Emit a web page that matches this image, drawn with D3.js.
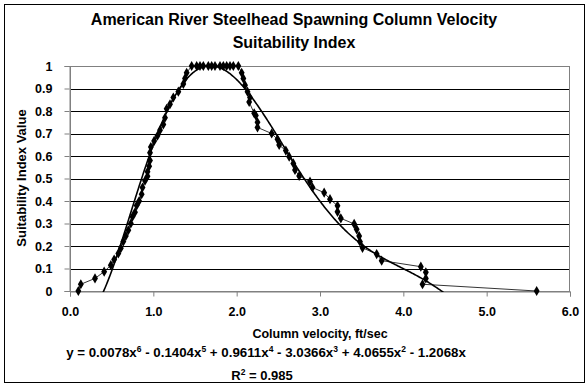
<!DOCTYPE html>
<html>
<head>
<meta charset="utf-8">
<script src="https://cdn.jsdelivr.net/npm/d3@7"></script>
<style>
  body { margin: 0; background: #fff; }
  text { font-family: "Liberation Sans", Arial, sans-serif; font-weight: bold; fill: #000; }
</style>
</head>
<body>
<svg id="chart" width="588" height="386"></svg>
<script>
let velocity = [0.10, 0.13, 0.30, 0.41, 0.49, 0.53, 0.58, 0.61, 0.64, 0.67, 0.70, 0.73, 0.75, 0.78, 0.80, 0.83, 0.86,
  0.87, 0.90, 0.93, 0.93, 0.95, 0.96, 0.96, 0.97, 1.01, 1.05, 1.08, 1.12, 1.14, 1.16, 1.20, 1.24, 1.30, 1.36, 1.38, 1.40,
  1.46, 1.52, 1.56, 1.60, 1.66, 1.70, 1.74, 1.80, 1.84, 1.88, 1.92, 1.96, 2.02,
  2.06, 2.08, 2.10, 2.13, 2.16, 2.15, 2.21, 2.23, 2.25, 2.25, 2.42, 2.49, 2.51, 2.59, 2.63, 2.68, 2.70, 2.75,
  2.88, 2.91, 3.05, 3.12, 3.21, 3.21, 3.25, 3.41, 3.44, 3.47, 3.48, 3.51, 3.68, 3.74,
  4.21, 4.27, 4.27, 4.23, 5.60];
let suitability = [0.00, 0.03, 0.056, 0.086, 0.115, 0.14, 0.167, 0.19, 0.22, 0.245, 0.27, 0.30, 0.33, 0.35, 0.38, 0.40, 0.43,
  0.46, 0.49, 0.51, 0.53, 0.555, 0.58, 0.615, 0.64, 0.667, 0.69, 0.715, 0.74, 0.77, 0.81, 0.83, 0.86, 0.886, 0.92, 0.945, 0.97,
  1, 1, 1, 1, 1, 1, 1, 1, 1, 1, 1, 1, 1,
  0.97, 0.945, 0.915, 0.886, 0.86, 0.84, 0.79, 0.78, 0.75, 0.727, 0.70, 0.674, 0.649, 0.624, 0.597, 0.567, 0.538, 0.511,
  0.486, 0.46, 0.437, 0.408, 0.379, 0.352, 0.323, 0.298, 0.274, 0.244, 0.219, 0.192, 0.164, 0.135,
  0.108, 0.083, 0.056, 0.03, 0.00];

// 6th order trendline coefficients, x^6 .. x^1 (intercept 0)
let trendCoef = [0.0078, -0.1404, 0.9611, -3.0366, 4.0655, -1.2068];

let xTicks = [0, 1, 2, 3, 4, 5, 6];
let yTicks = [0, 0.1, 0.2, 0.3, 0.4, 0.5, 0.6, 0.7, 0.8, 0.9, 1];

let titleLines = ['American River Steelhead Spawning Column Velocity', 'Suitability Index'];

let plotL = 70, plotR = 570, plotT = 66, plotB = 291;

let svg = d3.select('#chart');

svg.append('rect')
  .attr('x', 4.5).attr('y', 4.5)
  .attr('width', 580).attr('height', 378)
  .attr('fill', '#fff')
  .attr('stroke', '#000');

let x = d3.scaleLinear().domain([0, 6]).range([plotL, plotR]);
let y = d3.scaleLinear().domain([0, 1]).range([plotB, plotT]);

// gridlines
svg.append('g')
  .selectAll('line')
  .data(yTicks.filter(d => d > 0 && d < 1))
  .join('line')
  .attr('x1', plotL).attr('x2', plotR)
  .attr('y1', d => Math.round(y(d)) + 0.5)
  .attr('y2', d => Math.round(y(d)) + 0.5)
  .attr('stroke', '#000')
  .attr('stroke-width', 1);

// plot border
svg.append('rect')
  .attr('x', plotL + 0.5).attr('y', plotT + 0.5)
  .attr('width', plotR - plotL - 1).attr('height', plotB - plotT)
  .attr('fill', 'none')
  .attr('stroke', '#808080');

// axes
let yAxis = svg.append('g')
  .attr('transform', 'translate(' + (plotL - 0.5) + ',0)')
  .call(d3.axisLeft(y).tickValues(yTicks).tickSize(5).tickPadding(12)
    .tickFormat(d => d === 0 || d === 1 ? d3.format('d')(d) : d3.format('.1f')(d)));
yAxis.select('.domain').attr('stroke', '#808080');
yAxis.selectAll('.tick line').attr('stroke', '#808080');
yAxis.selectAll('text').attr('font-size', 12.5).attr('font-family', null);

let xAxis = svg.append('g')
  .attr('transform', 'translate(0,' + (plotB + 0.5) + ')')
  .call(d3.axisBottom(x).tickValues(xTicks).tickSize(5).tickPadding(11).tickFormat(d3.format('.1f')));
xAxis.select('.domain').attr('stroke', '#808080');
xAxis.selectAll('.tick line').attr('stroke', '#808080');
xAxis.selectAll('text').attr('font-size', 12.5).attr('font-family', null);

svg.append('clipPath').attr('id', 'plotClip')
  .append('rect')
  .attr('x', plotL).attr('y', plotT - 1)
  .attr('width', plotR - plotL).attr('height', plotB - plotT + 2);

// trendline from the fitted equation
function poly(v) {
  let n = trendCoef.length;
  return trendCoef.reduce((s, c, i) => s + c * Math.pow(v, n - i), 0);
}
let trendX = d3.range(0.1, 5.6001, 0.01);
svg.append('path')
  .datum(trendX)
  .attr('clip-path', 'url(#plotClip)')
  .attr('fill', 'none')
  .attr('stroke', '#000')
  .attr('stroke-width', 1.6)
  .attr('d', d3.line().x(d => x(d)).y(d => y(Math.max(-0.05, Math.min(1.02, poly(d))))));

// observed series
let pts = velocity.map((v, i) => [v, suitability[i]]);
svg.append('path')
  .datum(pts)
  .attr('fill', 'none')
  .attr('stroke', '#000')
  .attr('stroke-width', 0.8)
  .attr('d', d3.line().x(d => x(d[0])).y(d => y(d[1])));

svg.append('g')
  .selectAll('path')
  .data(pts)
  .join('path')
  .attr('transform', d => 'translate(' + x(d[0]) + ',' + y(d[1]) + ')')
  .attr('d', d3.symbol(d3.symbolDiamond, 30))
  .attr('fill', '#000');

// titles
svg.append('text')
  .attr('text-anchor', 'middle')
  .attr('font-size', 16)
  .selectAll('tspan')
  .data(titleLines)
  .join('tspan')
  .attr('x', 294)
  .attr('y', (d, i) => 25 + i * 23)
  .text(d => d);

svg.append('text')
  .attr('transform', 'translate(26,178) rotate(-90)')
  .attr('text-anchor', 'middle')
  .attr('font-size', 13)
  .text('Suitability Index Value');

svg.append('text')
  .attr('x', 320).attr('y', 338)
  .attr('text-anchor', 'middle')
  .attr('font-size', 12.5)
  .text('Column velocity, ft/sec');

// trendline label, superscripts shift up then the next part shifts back
let eqParts = [['y = 0.0078x', '6'], [' - 0.1404x', '5'], [' + 0.9611x', '4'], [' - 3.0366x', '3'], [' + 4.0655x', '2'], [' - 1.2068x', null]];
let eq = svg.append('text')
  .attr('x', 266).attr('y', 357)
  .attr('text-anchor', 'middle')
  .attr('font-size', 13.3);
eqParts.forEach(function(p, i) {
  eq.append('tspan').attr('dy', i === 0 ? 0 : 5).text(p[0]);
  if (p[1]) eq.append('tspan').attr('dy', -5).attr('font-size', 8.5).text(p[1]);
});

let r2 = svg.append('text')
  .attr('x', 262).attr('y', 380)
  .attr('text-anchor', 'middle')
  .attr('font-size', 13);
r2.append('tspan').text('R');
r2.append('tspan').attr('dy', -5).attr('font-size', 8.5).text('2');
r2.append('tspan').attr('dy', 5).text(' = 0.985');
</script>
</body>
</html>
